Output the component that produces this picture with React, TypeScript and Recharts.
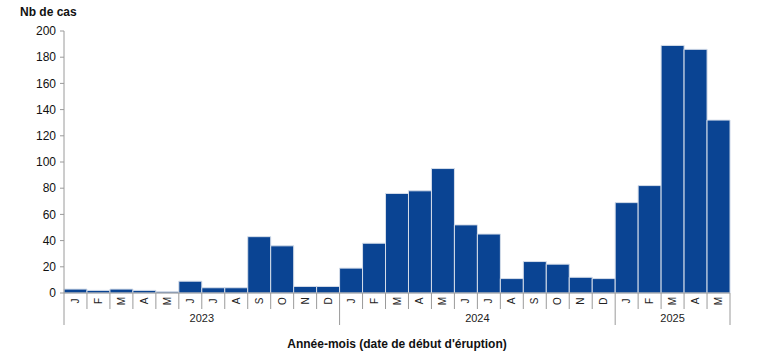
import { BarChart, Bar, XAxis, YAxis } from 'recharts';

const months = [
  'J', 'F', 'M', 'A', 'M', 'J', 'J', 'A', 'S', 'O', 'N', 'D',
  'J', 'F', 'M', 'A', 'M', 'J', 'J', 'A', 'S', 'O', 'N', 'D',
  'J', 'F', 'M', 'A', 'M',
];
const years = [
  '2023', '2023', '2023', '2023', '2023', '2023', '2023', '2023', '2023', '2023', '2023', '2023',
  '2024', '2024', '2024', '2024', '2024', '2024', '2024', '2024', '2024', '2024', '2024', '2024',
  '2025', '2025', '2025', '2025', '2025',
];
const cases = [
  3, 2, 3, 2, 1, 9, 4, 4, 43, 36, 5, 5,
  19, 38, 76, 78, 95, 52, 45, 11, 24, 22, 12, 11,
  69, 82, 189, 186, 132,
];
const yTicks = [0, 20, 40, 60, 80, 100, 120, 140, 160, 180, 200];

const data = cases.map((v, i) => ({ key: i, month: months[i], year: years[i], cas: v }));

const W = 768;
const H = 363;
const margin = { top: 31, right: 38, left: 4, bottom: 0 };
const yAxisW = 60;
const xAxisH = 70;
const plotW = W - margin.left - margin.right - yAxisW;
const plotBottom = H - margin.bottom - xAxisH;
const bw = plotW / data.length;
const axisGrey = '#9a9a9a';
const font = '"Liberation Sans", Arial, sans-serif';

function MonthTick(props: any) {
  const { x, payload } = props;
  const y = plotBottom;
  const i = payload.index ?? payload.value;
  const left = x - bw / 2;
  const right = x + bw / 2;
  const yearStart = i === 0 || years[i] !== years[i - 1];
  const last = i === data.length - 1;
  let yearLabel = null;
  if (yearStart) {
    let n = 0;
    while (i + n < years.length && years[i + n] === years[i]) n++;
    yearLabel = (
      <text x={left + (n * bw) / 2} y={y + 29} textAnchor="middle" fontSize={11} fill="#222" fontFamily={font}>
        {years[i]}
      </text>
    );
  }
  return (
    <g>
      <line x1={left} x2={left} y1={y} y2={yearStart ? y + 32 : y + 16} stroke={axisGrey} strokeWidth={1} />
      {last && <line x1={right} x2={right} y1={y} y2={y + 32} stroke={axisGrey} strokeWidth={1} />}
      <text
        x={x}
        y={y + 8}
        transform={`rotate(-90 ${x} ${y + 8})`}
        textAnchor="middle"
        dominantBaseline="central"
        fontSize={10}
        fill="#222"
        fontFamily={font}
      >
        {months[i]}
      </text>
      {yearLabel}
    </g>
  );
}

export default function App() {
  return (
    <div style={{ position: 'absolute', left: 0, top: 0, width: W, height: H, background: '#fff', fontFamily: font }}>
      <div style={{ position: 'absolute', left: 20, top: 5, fontSize: 12, fontWeight: 'bold', color: '#111' }}>
        Nb de cas
      </div>
      <BarChart width={W} height={H} data={data} margin={margin} barCategoryGap={0}>
        <XAxis
          dataKey="key"
          interval={0}
          height={xAxisH}
          tick={<MonthTick />}
          tickLine={false}
          axisLine={{ stroke: axisGrey }}
        />
        <YAxis
          width={yAxisW}
          domain={[0, 200]}
          ticks={yTicks}
          interval={0}
          tickSize={4}
          tickMargin={4}
          axisLine={{ stroke: axisGrey }}
          tickLine={{ stroke: axisGrey }}
          tick={{ fill: '#111', fontSize: 12, fontFamily: font }}
        />
        <Bar dataKey="cas" fill="#0a4493" stroke="#d6deea" strokeWidth={1} isAnimationActive={false} />
      </BarChart>
      <div
        style={{
          position: 'absolute',
          left: 64,
          width: plotW,
          top: 337,
          textAlign: 'center',
          fontSize: 12,
          fontWeight: 'bold',
          color: '#111',
        }}
      >
        Année-mois (date de début d'éruption)
      </div>
    </div>
  );
}
